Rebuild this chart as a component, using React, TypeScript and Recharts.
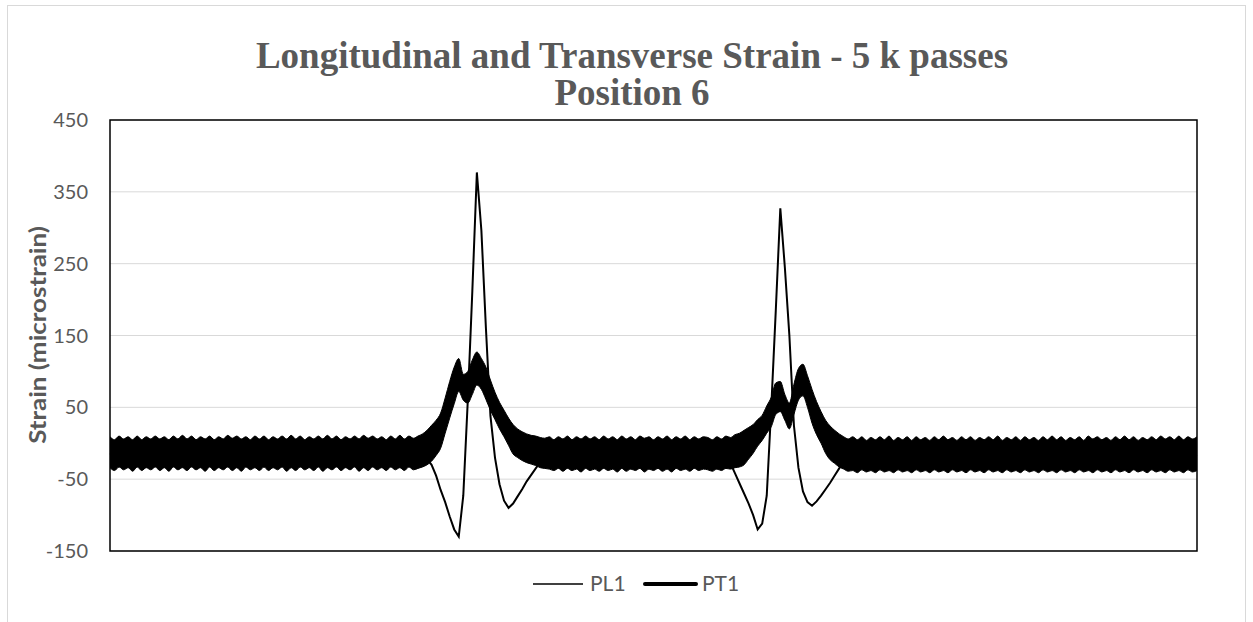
import { Area, CartesianGrid, ComposedChart, Line, ReferenceArea, XAxis, YAxis } from "recharts";

// one value per sample
const PL1 = [
  -14, -16, -15, -13, -16, -15, -14, -17, -15, -14,
  -16, -14, -15, -17, -14, -15, -16, -14, -15, -16,
  -15, -14, -16, -15, -13, -16, -15, -14, -17, -15,
  -14, -16, -15, -14, -16, -15, -13, -16, -15, -14,
  -16, -15, -14, -17, -15, -14, -16, -15, -14, -16,
  -15, -13, -16, -15, -14, -16, -15, -14, -16, -15,
  -14, -16, -15, -14, -16, -15, -14, -16, -16, -18,
  -22, -30, -45, -65, -82, -102, -120, -130, -73, 60,
  212, 377, 296, 160, 38, -20, -57, -80, -90, -84,
  -74, -64, -53, -44, -35, -26, -19, -16, -15, -16,
  -17, -16, -15, -17, -16, -18, -17, -16, -17, -18,
  -17, -16, -18, -17, -16, -17, -18, -16, -17, -16,
  -18, -17, -16, -17, -18, -16, -17, -18, -16, -17,
  -16, -17, -15, -14, -16, -17, -20, -28, -42, -56,
  -70, -84, -100, -120, -112, -73, 50, 185, 327, 245,
  150, 25, -34, -67, -82, -87, -81, -73, -64, -55,
  -45, -35, -26, -19, -16, -17, -18, -17, -19, -18,
  -17, -18, -19, -17, -18, -17, -19, -18, -17, -18,
  -19, -17, -18, -17, -19, -18, -17, -18, -19, -17,
  -18, -17, -19, -18, -17, -18, -19, -17, -18, -17,
  -19, -18, -17, -18, -19, -17, -18, -17, -19, -18,
  -17, -18, -19, -17, -18, -17, -19, -18, -17, -18,
  -19, -17, -18, -17, -19, -18, -17, -18, -19, -17,
  -18, -17, -19, -18, -17, -18, -19, -17, -18, -17,
  -18,
];

// PT1 oscillates fast, so keep the top and bottom of its band
const PT1_HIGH = [
  9, 5, 10, 6, 9, 5, 10, 5, 9, 6,
  10, 6, 9, 5, 10, 6, 11, 6, 10, 5,
  9, 6, 10, 5, 9, 6, 11, 7, 10, 6,
  9, 5, 10, 6, 10, 5, 9, 6, 10, 6,
  11, 6, 10, 5, 9, 6, 10, 6, 11, 6,
  10, 5, 9, 6, 10, 6, 11, 7, 10, 6,
  9, 5, 10, 6, 11, 6, 10, 7, 10, 13,
  18, 25, 32, 42, 63, 86, 106, 118, 96, 100,
  116, 127, 118, 106, 88, 71, 57, 46, 35, 26,
  20, 16, 13, 11, 10, 8, 7, 9, 5, 9,
  6, 10, 5, 9, 6, 10, 6, 9, 5, 10,
  6, 9, 5, 10, 6, 9, 5, 10, 7, 9,
  5, 9, 6, 10, 5, 9, 6, 10, 5, 9,
  6, 9, 8, 5, 9, 6, 10, 8, 12, 14,
  18, 22, 26, 33, 39, 52, 64, 84, 86, 68,
  56, 82, 104, 110, 94, 75, 58, 44, 32, 24,
  18, 13, 9, 6, 9, 5, 9, 4, 8, 5,
  9, 5, 10, 4, 8, 5, 9, 4, 9, 5,
  8, 4, 9, 5, 10, 5, 8, 4, 9, 5,
  9, 4, 8, 5, 9, 5, 10, 4, 8, 5,
  9, 4, 9, 5, 8, 4, 9, 5, 10, 5,
  9, 4, 8, 5, 9, 4, 10, 6, 9, 5,
  8, 4, 9, 5, 10, 5, 9, 4, 8, 5,
  9, 5, 10, 6, 9, 5, 10, 5, 9, 6,
  9,
];

const PT1_LOW = [
  -34, -38, -33, -37, -34, -39, -33, -38, -34, -37,
  -33, -38, -34, -39, -33, -37, -34, -38, -33, -37,
  -34, -39, -33, -38, -34, -37, -33, -38, -34, -39,
  -33, -37, -34, -38, -33, -38, -34, -37, -33, -39,
  -34, -38, -33, -37, -34, -38, -33, -39, -34, -37,
  -33, -38, -34, -37, -33, -39, -34, -38, -33, -37,
  -34, -38, -33, -37, -34, -38, -33, -37, -35, -33,
  -30, -25, -17, -7, 14, 35, 55, 72, 60, 56,
  68, 81, 75, 61, 46, 33, 20, 9, -3, -15,
  -20, -24, -27, -29, -31, -34, -35, -36, -38, -35,
  -39, -35, -38, -36, -40, -35, -38, -36, -39, -35,
  -38, -36, -40, -35, -39, -36, -38, -35, -40, -36,
  -38, -35, -39, -36, -40, -35, -38, -36, -39, -35,
  -38, -36, -37, -39, -36, -38, -35, -36, -34, -33,
  -30, -22, -14, -4, 4, 14, 23, 40, 44, 32,
  20, 40, 60, 66, 50, 28, 12, 0, -14, -23,
  -28, -33, -36, -39, -38, -41, -37, -40, -38, -41,
  -37, -40, -38, -41, -37, -40, -38, -41, -37, -40,
  -38, -41, -37, -40, -38, -41, -37, -40, -38, -41,
  -37, -40, -38, -41, -37, -40, -38, -41, -37, -40,
  -38, -41, -37, -40, -38, -41, -37, -40, -38, -41,
  -37, -40, -38, -41, -37, -40, -38, -41, -37, -40,
  -38, -41, -37, -40, -38, -41, -37, -40, -38, -41,
  -37, -40, -38, -41, -37, -40, -38, -41, -37, -40,
  -38,
];

const Y_TICKS = [-150, -50, 50, 150, 250, 350, 450];
const TITLE = ["Longitudinal and Transverse Strain - 5 k passes", "Position 6"];
const Y_LABEL = "Strain (microstrain)";
const SERIES = ["PL1", "PT1"];

const GREY = "#595959";
const SANS = "Lato, 'Open Sans', sans-serif";

export default function App() {
  const data = PL1.map((v, i) => ({ t: i, pl1: v, pt1: [PT1_LOW[i], PT1_HIGH[i]] }));
  const last = PL1.length - 1;

  return (
    <div style={{ position: "absolute", left: 0, top: 0, width: 1253, height: 622, background: "#fff", overflow: "hidden" }}>
      <div style={{ position: "absolute", left: 7, top: 5, width: 1237, height: 660, border: "1px solid #d9d9d9" }} />

      <div
        style={{
          position: "absolute", left: 0, top: 37, width: 1264, textAlign: "center",
          fontFamily: "'Liberation Serif', 'Times New Roman', serif", fontWeight: "bold",
          fontSize: 37, lineHeight: "37px", color: GREY,
        }}
      >
        {TITLE.map((t) => <div key={t}>{t}</div>)}
      </div>

      <div
        style={{
          position: "absolute", left: 37 - 170, top: 335 - 16, width: 340, height: 32,
          lineHeight: "32px", textAlign: "center", transform: "rotate(-90deg) scaleY(0.85)",
          fontFamily: SANS, fontWeight: "bold", fontSize: 26, color: GREY, whiteSpace: "nowrap",
        }}
      >
        {Y_LABEL}
      </div>

      <div style={{ position: "absolute", left: 0, top: 0 }}>
        <ComposedChart width={1253} height={622} data={data} margin={{ top: 120, right: 56, bottom: 71, left: 30 }}>
          <CartesianGrid vertical={false} stroke="#d9d9d9" />
          <XAxis dataKey="t" type="number" domain={[0, last]} hide />
          <YAxis
            domain={[-150, 450]}
            ticks={Y_TICKS}
            width={80}
            tickLine={false}
            axisLine={false}
            tickMargin={16}
            tick={{ fill: GREY, fontSize: 20, fontFamily: SANS }}
          />
          <Line dataKey="pl1" name={SERIES[0]} stroke="#000" strokeWidth={2} dot={false} isAnimationActive={false} />
          <Area
            dataKey="pt1"
            name={SERIES[1]}
            type="monotone"
            stroke="#000"
            strokeWidth={1}
            fill="#000"
            fillOpacity={1}
            isAnimationActive={false}
          />
          <ReferenceArea x1={0} x2={last} y1={-150} y2={450} fill="none" stroke="#000" strokeWidth={1.5} />
        </ComposedChart>
      </div>

      {/* legend */}
      <svg style={{ position: "absolute", left: 0, top: 0 }} width={1253} height={622}>
        <line x1={533} x2={583} y1={584} y2={584} stroke="#000" strokeWidth={1.5} />
        <text x={590} y={584} dy="0.35em" fill={GREY} fontSize={21} fontFamily={SANS}>{SERIES[0]}</text>
        <line x1={645} x2={696} y1={584} y2={584} stroke="#000" strokeWidth={4} strokeLinecap="round" />
        <text x={702} y={584} dy="0.35em" fill={GREY} fontSize={21} fontFamily={SANS}>{SERIES[1]}</text>
      </svg>
    </div>
  );
}
